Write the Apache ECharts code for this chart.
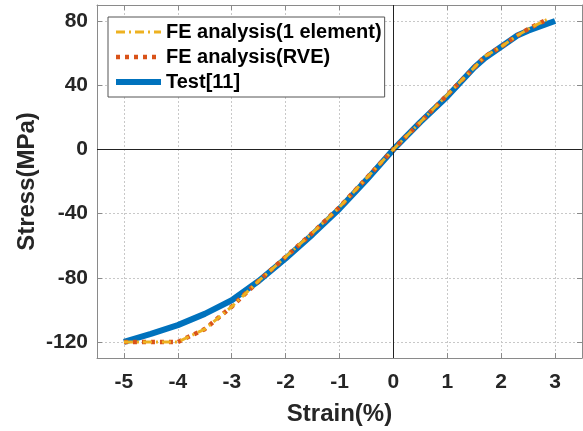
<!DOCTYPE html>
<html>
<head>
<meta charset="utf-8">
<script src="https://cdn.jsdelivr.net/npm/echarts@6/dist/echarts.min.js"></script>
<style>
  html, body { margin: 0; padding: 0; background: #fff; }
  #chart { width: 583px; height: 431px; }
</style>
</head>
<body>
<div id="chart"></div>
<script>
// Strain (%) / Stress (MPa) readings
const feOneStrain = [-5, -4.5, -4, -3.5, -3, -2.5, -2, -1.5, -1, -0.5, 0, 0.5, 1, 1.5, 1.7, 2, 2.3, 2.5, 2.85];
const feOneStress = [-120, -120, -120, -112, -98, -82, -67, -52, -36, -18, 0, 17, 34, 51, 58, 64, 71, 75, 81];
const feRveStrain = [-5, -4.5, -4, -3.5, -3, -2.5, -2, -1.5, -1, -0.5, 0, 0.5, 1, 1.5, 1.7, 2, 2.3, 2.5, 2.85];
const feRveStress = [-120, -120, -120, -112, -98, -82, -67, -52, -36, -18, 0, 17, 34, 51, 58, 64, 71, 75, 81];
const testStrain = [-5, -4.5, -4, -3.5, -3, -2.5, -2, -1.5, -1, -0.5, 0, 0.5, 1, 1.5, 1.7, 2, 2.3, 2.5, 3];
const testStress = [-120, -115, -109.5, -102.5, -94, -82, -68, -53, -37, -19, 0, 17, 33, 51, 57, 64, 71, 74, 80];
const xTicks = [-5, -4, -3, -2, -1, 0, 1, 2, 3];
const yTicks = [-120, -80, -40, 0, 40, 80];

const pairs = (xs, ys) => xs.map((x, i) => [x, ys[i]]);

let chart = echarts.init(document.getElementById('chart'));

const labelFont = { fontFamily: 'Liberation Sans, Arial, sans-serif', fontWeight: 'bold', color: '#262626' };
const gridLine = { show: true, lineStyle: { color: '#c8c8c8', type: [2, 2], width: 1 } };

let option = {
    animation: false,
    grid: { left: 97, right: 1, top: 5, bottom: 72 },
    legend: {
        orient: 'vertical',
        left: 108,
        top: 17,
        padding: [5, 3, 5, 5],
        itemWidth: 45,
        itemHeight: 14,
        itemGap: 5,
        backgroundColor: '#fff',
        borderColor: '#555',
        borderWidth: 1,
        itemStyle: { opacity: 0 },
        lineStyle: { width: 'inherit' },
        textStyle: { fontSize: 20, fontFamily: 'Liberation Sans, Arial, sans-serif', fontWeight: 'bold', color: '#000' },
        data: ['FE analysis(1 element)', 'FE analysis(RVE)', 'Test[11]']
    },
    xAxis: [
        {
            type: 'value', min: -5.5, max: 3.5,
            name: 'Strain(%)', nameLocation: 'middle', nameGap: 44, nameMoveOverlap: false,
            nameTextStyle: Object.assign({ fontSize: 24 }, labelFont),
            axisLine: { onZero: false, lineStyle: { color: '#8a8a8a' } },
            axisTick: { inside: true, length: 5, customValues: xTicks, lineStyle: { color: '#8a8a8a' } },
            axisLabel: Object.assign({ fontSize: 21, margin: 14, customValues: xTicks }, labelFont),
            splitLine: gridLine
        },
        {
            type: 'value', min: -5.5, max: 3.5, position: 'top',
            axisLine: { onZero: false, lineStyle: { color: '#8a8a8a' } },
            axisTick: { inside: true, length: 5, customValues: xTicks, lineStyle: { color: '#8a8a8a' } },
            axisLabel: { show: false },
            splitLine: { show: false }
        }
    ],
    yAxis: [
        {
            type: 'value', min: -130, max: 90,
            name: 'Stress(MPa)', nameLocation: 'middle', nameGap: 58, nameMoveOverlap: false,
            nameTextStyle: Object.assign({ fontSize: 24 }, labelFont),
            axisLine: { show: true, onZero: false, lineStyle: { color: '#8a8a8a' } },
            axisTick: { show: true, inside: true, length: 5, customValues: yTicks, lineStyle: { color: '#8a8a8a' } },
            axisLabel: Object.assign({ fontSize: 21, margin: 9, customValues: yTicks }, labelFont),
            splitLine: gridLine
        },
        {
            type: 'value', min: -130, max: 90, position: 'right',
            axisLine: { show: true, onZero: false, lineStyle: { color: '#8a8a8a' } },
            axisTick: { show: true, inside: true, length: 5, customValues: yTicks, lineStyle: { color: '#8a8a8a' } },
            axisLabel: { show: false },
            splitLine: { show: false }
        }
    ],
    series: [
        {
            name: 'FE analysis(1 element)',
            type: 'line', z: 5, symbol: 'none',
            data: pairs(feOneStrain, feOneStress),
            color: '#EDB120',
            lineStyle: { width: 3, type: [9, 4, 2, 4], cap: 'butt' }
        },
        {
            name: 'FE analysis(RVE)',
            type: 'line', z: 4, symbol: 'none',
            data: pairs(feRveStrain, feRveStress),
            color: '#D95319',
            lineStyle: { width: 4.5, type: [4, 5], cap: 'butt' }
        },
        {
            name: 'Test[11]',
            type: 'line', z: 3, symbol: 'none',
            data: pairs(testStrain, testStress),
            color: '#0072BD',
            lineStyle: { width: 6 },
            markLine: {
                silent: true, symbol: 'none', label: { show: false },
                lineStyle: { color: '#222', type: 'solid', width: 1 },
                data: [{ xAxis: 0 }, { yAxis: 0 }]
            }
        }
    ]
};

chart.setOption(option);
</script>
</body>
</html>
